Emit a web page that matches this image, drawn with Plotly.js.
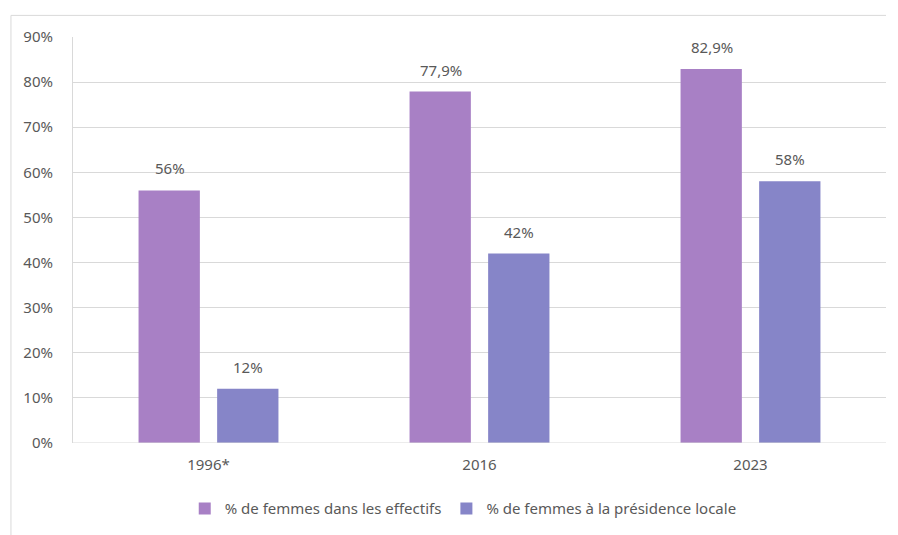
<!DOCTYPE html>
<html>
<head>
<meta charset="utf-8">
<script src="https://cdn.plot.ly/plotly-3.0.1.min.js"></script>
<style>html,body{margin:0;padding:0;background:#fff;}#chart{width:898px;height:535px;}</style>
</head>
<body>
<div id="chart"></div>
<script>
const categories = ["1996*", "2016", "2023"];
const seriesNames = ["% de femmes dans les effectifs", "% de femmes à la présidence locale"];
const effectifs = [56, 77.9, 82.9];
const presidence = [12, 42, 58];
const effectifsLabels = ["56%", "77,9%", "82,9%"];
const presidenceLabels = ["12%", "42%", "58%"];
const yTickVals = [0, 10, 20, 30, 40, 50, 60, 70, 80, 90];
const yTickText = ["0%", "10%", "20%", "30%", "40%", "50%", "60%", "70%", "80%", "90%"];

const font = "'Noto Sans', 'Open Sans', sans-serif";
const textColor = "#595959";
const fs = 15;

const traces = [
  {type: "bar", name: seriesNames[0], x: categories, y: effectifs,
   marker: {color: "#a880c5"}, hoverinfo: "none"},
  {type: "bar", name: seriesNames[1], x: categories, y: presidence,
   marker: {color: "#8685c8"}, hoverinfo: "none"}
];

const annotations = [];
const series = [[effectifs, effectifsLabels, -39], [presidence, presidenceLabels, 39]];
series.forEach(([vals, labels, dx]) => {
  categories.forEach((c, i) => {
    annotations.push({x: i, y: vals[i], xref: "x", yref: "y", text: labels[i],
      showarrow: false, xanchor: "center", yanchor: "bottom", xshift: dx, yshift: 10,
      font: {family: font, size: fs, color: textColor}});
  });
});

const layout = {
  width: 898, height: 535,
  margin: {l: 73, r: 12, t: 37, b: 92, autoexpand: false},
  paper_bgcolor: "#ffffff", plot_bgcolor: "#ffffff",
  font: {family: font, size: fs, color: textColor},
  barmode: "group", bargap: 0.42, bargroupgap: 0.22,
  showlegend: true,
  legend: {orientation: "h", x: 0.48, xanchor: "center", yref: "container", y: 0.049, yanchor: "middle",
           font: {family: font, size: fs, color: textColor}, itemwidth: 30, traceorder: "normal"},
  xaxis: {type: "category", categoryarray: categories, categoryorder: "array",
          showgrid: false, zeroline: false, showline: false, ticks: "",
          tickfont: {family: font, size: fs, color: textColor}, ticklabelstandoff: 11},
  yaxis: {range: [0, 90], tickvals: yTickVals, ticktext: yTickText, showgrid: true,
          gridcolor: "#d9d9d9", gridwidth: 1, zeroline: false, showline: true,
          linecolor: "#d9d9d9", linewidth: 1, ticks: "",
          tickfont: {family: font, size: fs, color: textColor}, ticklabelstandoff: 16},
  annotations: annotations,
  shapes: [
    {type: "line", xref: "paper", yref: "paper", x0: -0.0763, x1: 1.0, y0: 1.0532, y1: 1.0532,
     line: {color: "#d9d9d9", width: 1}},
    {type: "line", xref: "paper", yref: "paper", x0: -0.0763, x1: -0.0763, y0: 1.0532, y1: -0.3,
     line: {color: "#d9d9d9", width: 1}},
    {type: "line", xref: "paper", yref: "y", x0: 0, x1: 1, y0: 0, y1: 0,
     line: {color: "#d9d9d9", width: 1}}
  ]
};

Plotly.newPlot("chart", traces, layout, {displayModeBar: false, staticPlot: true});
</script>
</body>
</html>
